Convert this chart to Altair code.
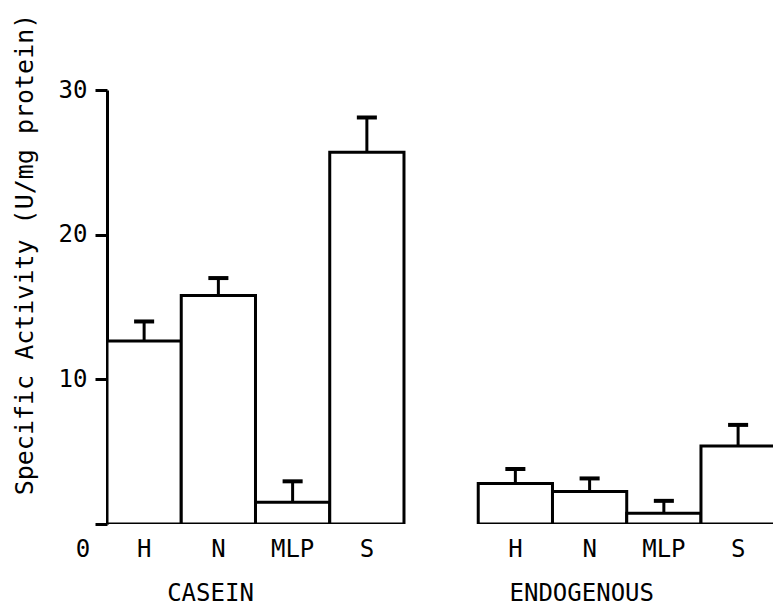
import altair as alt
import pandas as pd

categories = ["H", "N", "MLP", "S"]
groups = ["CASEIN", "ENDOGENOUS"]
casein_mean = [12.65, 15.8, 1.5, 25.7]
casein_se = [1.35, 1.2, 1.45, 2.4]
endo_mean = [2.8, 2.25, 0.75, 5.4]
endo_se = [1.0, 0.9, 0.85, 1.45]
y_ticks = [0, 10, 20, 30]
y_title = "Specific Activity (U/mg protein)"
origin_label = ["0"]

FONT = "DejaVu Sans Mono"

rows = []
for gi, (g, means, ses) in enumerate(zip(groups, [casein_mean, endo_mean], [casein_se, endo_se])):
    for ci, (c, m, s) in enumerate(zip(categories, means, ses)):
        slot = gi * (len(categories) + 1) + ci
        rows.append({"group": g, "cat": c, "mean": m, "top": m + s,
                     "x0": slot, "x1": slot + 1, "xc": slot + 0.5})
df = pd.DataFrame(rows)

grp = pd.DataFrame({"group": groups,
                    "xc": [gi * (len(categories) + 1) + len(categories) / 2 for gi in range(len(groups))]})
org = pd.DataFrame({"label": origin_label, "x": [0]})

W, H = 666, 434
xs = alt.Scale(domain=[0, 8.97], nice=False, zero=False)
ys = alt.Scale(domain=[0, 30], nice=False, zero=True)

base = alt.Chart(df)

bars = base.mark_bar(fill="white", stroke="black", strokeWidth=3, clip=True).encode(
    x=alt.X("x0:Q", scale=xs, axis=None),
    x2="x1:Q",
    y=alt.Y("mean:Q", scale=ys, axis=alt.Axis(
        values=y_ticks,
        labelExpr="datum.value == 0 ? '' : datum.label",
        grid=False,
        tickSize=12, tickWidth=3, tickColor="black",
        domainWidth=3, domainColor="black",
        labelFont=FONT, labelFontSize=24, labelColor="black", labelPadding=8,
        title=y_title, titleFont=FONT, titleFontSize=25, titleFontWeight="normal",
        titleColor="black", titleX=-83, titleY=164, titleAngle=-90,
        titleAlign="center", titleBaseline="middle",
    )),
    y2=alt.datum(0),
)

err = base.mark_rule(color="black", strokeWidth=3).encode(
    x=alt.X("xc:Q", scale=xs, axis=None),
    y=alt.Y("mean:Q", scale=ys),
    y2="top:Q",
)

caps = base.transform_calculate(
    cl="datum.xc - 0.135", cr="datum.xc + 0.135"
).mark_rule(color="black", strokeWidth=4).encode(
    x=alt.X("cl:Q", scale=xs, axis=None),
    x2="cr:Q",
    y=alt.Y("top:Q", scale=ys),
)

cat_labels = base.mark_text(font=FONT, fontSize=24, color="black", baseline="middle").encode(
    x=alt.X("xc:Q", scale=xs, axis=None),
    y=alt.value(H + 26),
    text="cat:N",
)

origin = alt.Chart(org).mark_text(font=FONT, fontSize=24, color="black", baseline="middle", dx=-24).encode(
    x=alt.X("x:Q", scale=xs, axis=None),
    y=alt.value(H + 26),
    text="label:N",
)

grp_labels = alt.Chart(grp).mark_text(font=FONT, fontSize=24, color="black", baseline="middle", dx=-45).encode(
    x=alt.X("xc:Q", scale=xs, axis=None),
    y=alt.value(H + 70),
    text="group:N",
)

chart = alt.layer(bars, err, caps, cat_labels, origin, grp_labels).properties(
    width=W, height=H,
    autosize=alt.AutoSizeParams(type="none"),
    padding={"left": 107, "top": 90, "right": 0, "bottom": 86},
    background="white",
).configure_view(stroke=None)

chart.save("out.html", embed_options={"renderer": "svg", "actions": False})
